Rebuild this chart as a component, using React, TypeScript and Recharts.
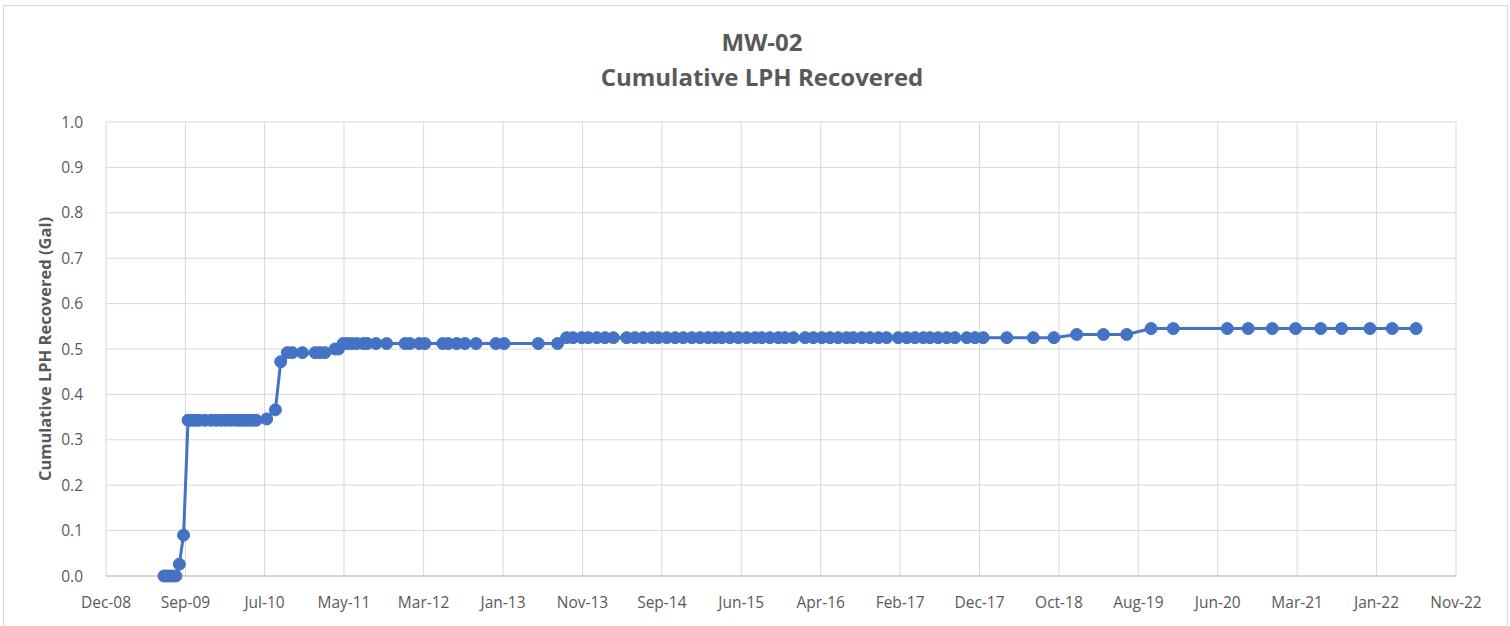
import { CartesianGrid, Line, LineChart, XAxis, YAxis } from "recharts";

const dates = [
  "2009-07-08", "2009-07-19", "2009-07-31", "2009-08-11", "2009-08-22",
  "2009-09-04", "2009-09-20", "2009-10-07", "2009-10-20", "2009-11-02",
  "2009-11-17", "2009-12-10", "2010-01-02", "2010-01-21", "2010-02-08",
  "2010-02-27", "2010-03-18", "2010-04-06", "2010-04-21", "2010-05-06",
  "2010-05-21", "2010-06-06", "2010-06-21", "2010-07-31", "2010-09-02",
  "2010-09-22", "2010-10-17", "2010-11-05", "2010-12-13", "2011-01-30",
  "2011-02-17", "2011-03-08", "2011-04-15", "2011-04-28", "2011-05-16",
  "2011-05-31", "2011-06-17", "2011-07-06", "2011-07-31", "2011-08-15",
  "2011-09-17", "2011-10-27", "2012-01-05", "2012-01-23", "2012-02-28",
  "2012-03-20", "2012-05-26", "2012-06-16", "2012-07-18", "2012-08-18",
  "2012-09-29", "2012-12-13", "2013-01-13", "2013-05-22", "2013-08-03",
  "2013-09-06", "2013-09-30", "2013-11-02", "2013-11-27", "2013-12-29",
  "2014-01-29", "2014-03-02", "2014-04-21", "2014-05-22", "2014-06-23",
  "2014-07-25", "2014-08-18", "2014-09-19", "2014-10-21", "2014-11-21",
  "2014-12-23", "2015-01-23", "2015-02-23", "2015-03-21", "2015-04-15",
  "2015-05-16", "2015-06-17", "2015-07-18", "2015-08-19", "2015-09-13",
  "2015-10-14", "2015-11-15", "2015-12-10", "2016-01-11", "2016-02-24",
  "2016-03-26", "2016-04-27", "2016-05-28", "2016-06-28", "2016-07-30",
  "2016-08-24", "2016-09-25", "2016-10-26", "2016-11-27", "2016-12-28",
  "2017-02-10", "2017-03-14", "2017-04-14", "2017-05-16", "2017-06-10",
  "2017-07-11", "2017-08-12", "2017-09-12", "2017-10-27", "2017-11-27",
  "2017-12-28", "2018-03-27", "2018-07-05", "2018-09-21", "2018-12-16",
  "2019-03-27", "2019-06-23", "2019-09-23", "2019-12-16", "2020-07-07",
  "2020-09-24", "2020-12-24", "2021-03-22", "2021-06-25", "2021-09-12",
  "2021-12-28", "2022-03-22", "2022-06-20",
];

const recovered = [
  0, 0, 0, 0, 0,
  0.026, 0.09, 0.343, 0.343, 0.343,
  0.343, 0.343, 0.343, 0.343, 0.343,
  0.343, 0.343, 0.343, 0.343, 0.343,
  0.343, 0.343, 0.343, 0.346, 0.366,
  0.472, 0.492, 0.492, 0.492, 0.492,
  0.492, 0.492, 0.5, 0.5, 0.512,
  0.512, 0.512, 0.512, 0.512, 0.512,
  0.512, 0.512, 0.512, 0.512, 0.512,
  0.512, 0.512, 0.512, 0.512, 0.512,
  0.512, 0.512, 0.512, 0.512, 0.512,
  0.525, 0.525, 0.525, 0.525, 0.525,
  0.525, 0.525, 0.525, 0.525, 0.525,
  0.525, 0.525, 0.525, 0.525, 0.525,
  0.525, 0.525, 0.525, 0.525, 0.525,
  0.525, 0.525, 0.525, 0.525, 0.525,
  0.525, 0.525, 0.525, 0.525, 0.525,
  0.525, 0.525, 0.525, 0.525, 0.525,
  0.525, 0.525, 0.525, 0.525, 0.525,
  0.525, 0.525, 0.525, 0.525, 0.525,
  0.525, 0.525, 0.525, 0.525, 0.525,
  0.525, 0.525, 0.525, 0.525, 0.532,
  0.532, 0.532, 0.545, 0.545, 0.545,
  0.545, 0.545, 0.545, 0.545, 0.545,
  0.545, 0.545, 0.545,
];

// excel date axis: 300 day major unit starting 1-Dec-08
const xTicks = [
  "2008-12-01", "2009-09-27", "2010-07-23", "2011-05-19", "2012-03-15",
  "2013-01-09", "2013-11-05", "2014-09-01", "2015-06-28", "2016-04-23",
  "2017-02-17", "2017-12-14", "2018-10-10", "2019-08-06", "2020-06-01",
  "2021-03-28", "2022-01-22", "2022-11-18",
];

const yTicks = [0, 0.1, 0.2, 0.3, 0.4, 0.5, 0.6, 0.7, 0.8, 0.9, 1.0];

const months = ["Jan", "Feb", "Mar", "Apr", "May", "Jun", "Jul", "Aug", "Sep", "Oct", "Nov", "Dec"];

const toTime = (s: string) => new Date(s + "T00:00:00Z").getTime();

const data = dates.map((d, i) => ({ t: toTime(d), value: recovered[i] }));
const tickTimes = xTicks.map(toTime);

const fmtDate = (t: number) => {
  const d = new Date(t);
  return `${months[d.getUTCMonth()]}-${String(d.getUTCFullYear() % 100).padStart(2, "0")}`;
};

const font = "'Open Sans', 'Liberation Sans', sans-serif";
const gray = "#595959";
const blue = "#4472C4";

export default function App() {
  return (
    <div style={{ position: "absolute", left: 0, top: 0, width: 1510, height: 626, background: "#fff", fontFamily: font }}>
      <div
        style={{
          position: "absolute",
          left: 3,
          top: 5,
          width: 1503,
          height: 640,
          border: "1px solid #d9d9d9",
        }}
      />
      <div style={{ position: "absolute", left: 462, width: 600, top: 24, textAlign: "center", color: gray, fontWeight: 700, fontSize: 24, lineHeight: "35px" }}>
        <div>MW-02</div>
        <div>Cumulative LPH Recovered</div>
      </div>
      <LineChart
        width={1510}
        height={626}
        data={data}
        margin={{ top: 122, right: 54, bottom: 10, left: 20 }}
        style={{ position: "absolute", left: 0, top: 0 }}
      >
        <CartesianGrid stroke="#d9d9d9" strokeWidth={1} />
        <XAxis
          dataKey="t"
          type="number"
          domain={[tickTimes[0], tickTimes[tickTimes.length - 1]]}
          ticks={tickTimes}
          tickFormatter={fmtDate}
          height={40}
          stroke="#bfbfbf"
          tickLine={false}
          tick={{ fill: gray, fontSize: 15.5, fontFamily: font }}
          tickMargin={15}
        />
        <YAxis
          type="number"
          domain={[0, 1]}
          ticks={yTicks}
          tickFormatter={(v: number) => v.toFixed(1)}
          width={86}
          axisLine={false}
          tickLine={false}
          tick={{ fill: gray, fontSize: 15.5, fontFamily: font }}
          tickMargin={17}
          label={{
            value: "Cumulative LPH Recovered (Gal)",
            angle: -90,
            position: "insideLeft",
            offset: 25,
            style: { textAnchor: "middle", fill: gray, fontWeight: 700, fontSize: 16.5, fontFamily: font },
          }}
        />
        <Line
          type="linear"
          dataKey="value"
          stroke={blue}
          strokeWidth={3}
          dot={{ r: 6, fill: blue, stroke: blue, strokeWidth: 1 }}
          isAnimationActive={false}
        />
      </LineChart>
    </div>
  );
}
